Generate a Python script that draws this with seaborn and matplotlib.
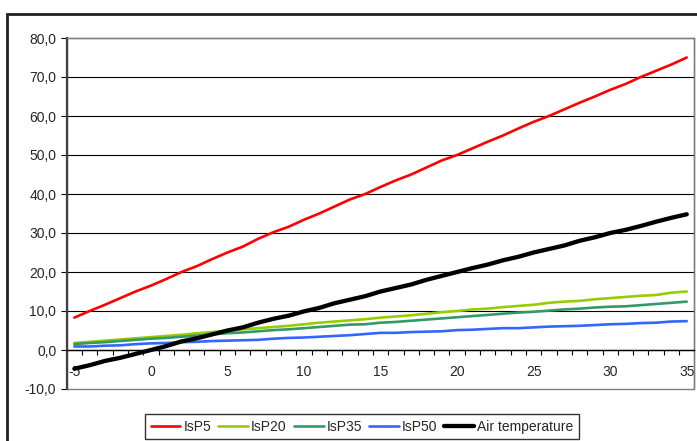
import numpy as np
import pandas as pd
import matplotlib
matplotlib.use("Agg")
import matplotlib.pyplot as plt
import seaborn as sns
from matplotlib.ticker import FixedLocator, FuncFormatter

# ---- data ----
temps = list(range(-5, 36))

isp5 = [8.3, 10.0, 11.6, 13.3, 15.0, 16.5, 18.2, 20.0, 21.5, 23.3,
        25.0, 26.5, 28.5, 30.2, 31.6, 33.4, 35.0, 36.8, 38.6, 40.0,
        41.8, 43.5, 45.0, 46.8, 48.6, 50.0, 51.7, 53.4, 55.0, 56.8,
        58.5, 60.0, 61.7, 63.4, 65.0, 66.7, 68.2, 70.0, 71.6, 73.2, 75.0]

isp20 = [1.8, 2.1, 2.4, 2.7, 3.0, 3.3, 3.6, 3.9, 4.3, 4.6,
         4.9, 5.3, 5.6, 5.9, 6.2, 6.6, 7.0, 7.3, 7.6, 7.9,
         8.3, 8.6, 8.9, 9.3, 9.7, 10.0, 10.4, 10.6, 11.0, 11.3,
         11.6, 12.1, 12.4, 12.6, 13.0, 13.3, 13.6, 13.9, 14.1, 14.7, 15.0]

isp35 = [1.5, 1.8, 2.0, 2.3, 2.6, 2.9, 3.1, 3.4, 3.7, 4.0,
         4.3, 4.5, 4.8, 5.1, 5.3, 5.6, 5.9, 6.2, 6.5, 6.6,
         7.0, 7.2, 7.5, 7.8, 8.1, 8.4, 8.7, 9.0, 9.3, 9.6,
         9.8, 10.1, 10.4, 10.6, 10.9, 11.1, 11.2, 11.5, 11.8, 12.1, 12.4]

isp50 = [0.9, 0.9, 1.1, 1.2, 1.5, 1.7, 1.8, 2.0, 2.1, 2.3,
         2.4, 2.5, 2.6, 2.9, 3.1, 3.2, 3.4, 3.6, 3.8, 4.1,
         4.4, 4.4, 4.6, 4.7, 4.8, 5.1, 5.2, 5.4, 5.6, 5.6,
         5.8, 6.0, 6.1, 6.2, 6.4, 6.6, 6.7, 6.9, 7.0, 7.3, 7.4]

air_temp = [-4.8, -3.9, -2.8, -2.0, -1.0, 0.0, 1.0, 2.2, 3.0, 4.0,
            5.0, 5.8, 7.0, 8.0, 8.8, 9.9, 10.8, 12.0, 12.9, 13.8,
            15.0, 15.9, 16.8, 18.0, 19.0, 20.0, 21.0, 21.9, 23.0, 23.9,
            25.0, 25.9, 26.8, 28.0, 28.9, 30.0, 30.8, 31.8, 32.9, 33.9, 34.8]

series_names = ["IsP5", "IsP20", "IsP35", "IsP50", "Air temperature"]
series_values = [isp5, isp20, isp35, isp50, air_temp]
series_colors = ["#FF0000", "#99CC00", "#339966", "#3366FF", "#000000"]
series_widths = [1.9, 1.9, 1.9, 1.9, 3.1]

y_ticks = [-10, 0, 10, 20, 30, 40, 50, 60, 70, 80]
x_labels = [-5, 0, 5, 10, 15, 20, 25, 30, 35]

# ---- figure ----
sns.set_style("white")
plt.rcParams["font.family"] = ["Liberation Sans", "DejaVu Sans"]

fig = plt.figure(figsize=(6.97, 4.41), dpi=100)
ax = fig.add_axes([66.7 / 697, 1 - 389 / 441, (694.4 - 66.7) / 697, (389 - 38) / 441])

for name, vals, col, lw in zip(series_names, series_values, series_colors, series_widths):
    df = pd.DataFrame({"t": temps, "v": vals})
    sns.lineplot(data=df, x="t", y="v", ax=ax, color=col, linewidth=lw,
                 label=name, legend=False, zorder=3)

ax.set_xlim(temps[0] - 0.5, temps[-1] + 0.5)
ax.set_ylim(y_ticks[0], y_ticks[-1])
ax.set_xlabel("")
ax.set_ylabel("")

# y axis
ax.yaxis.set_major_locator(FixedLocator(y_ticks))
ax.yaxis.set_major_formatter(FuncFormatter(lambda v, p: f"{v:.1f}".replace(".", ",")))
ax.tick_params(axis="y", which="major", direction="out", length=4.5, width=0.8,
               color="black", pad=3.0, labelsize=10, left=True)
ax.grid(axis="y", color="black", linewidth=0.8)
gl = ax.yaxis.get_gridlines()
gl[0].set_visible(False)
gl[-1].set_visible(False)

# x axis crossing at 0 (category style)
ax.spines["bottom"].set_position(("data", 0))
ax.spines["bottom"].set_color("black")
ax.spines["bottom"].set_linewidth(1.0)
ax.xaxis.set_major_locator(FixedLocator(x_labels))
ax.xaxis.set_minor_locator(FixedLocator([t + 0.5 for t in temps[:-1]]))
ax.xaxis.set_major_formatter(FuncFormatter(lambda v, p: f"{int(round(v))}"))
ax.tick_params(axis="x", which="major", length=0, pad=11, labelsize=10)
ax.tick_params(axis="x", which="minor", direction="out", length=3.8, width=0.8,
               color="black", bottom=True)

# plot area border
for s in ["top", "right"]:
    ax.spines[s].set_color("#808080")
    ax.spines[s].set_linewidth(1.0)
ax.spines["left"].set_color("#404040")
ax.spines["left"].set_linewidth(1.6)
ax.patch.set_facecolor("white")
ax.patch.set_edgecolor("#808080")
ax.patch.set_linewidth(1.0)

# legend
handles, labels = ax.get_legend_handles_labels()
leg = fig.legend(handles, labels, loc="upper left", ncol=5,
                 bbox_to_anchor=(145 / 697, 1 - 414 / 441),
                 borderaxespad=0.0,
                 frameon=True, fancybox=False, edgecolor="black",
                 fontsize=10, handlelength=2.15, handletextpad=0.22,
                 columnspacing=0.5, borderpad=0.4)
leg.get_frame().set_linewidth(1.0)

# outer chart frame
frame = matplotlib.patches.Rectangle((7 / 697, -0.2), 1.2, 1 - 14 / 441 + 0.2,
                                     transform=fig.transFigure, fill=False,
                                     edgecolor="#202020", linewidth=2.0,
                                     clip_on=False)
fig.patches.append(frame)

fig.savefig("out.png", dpi=100)
